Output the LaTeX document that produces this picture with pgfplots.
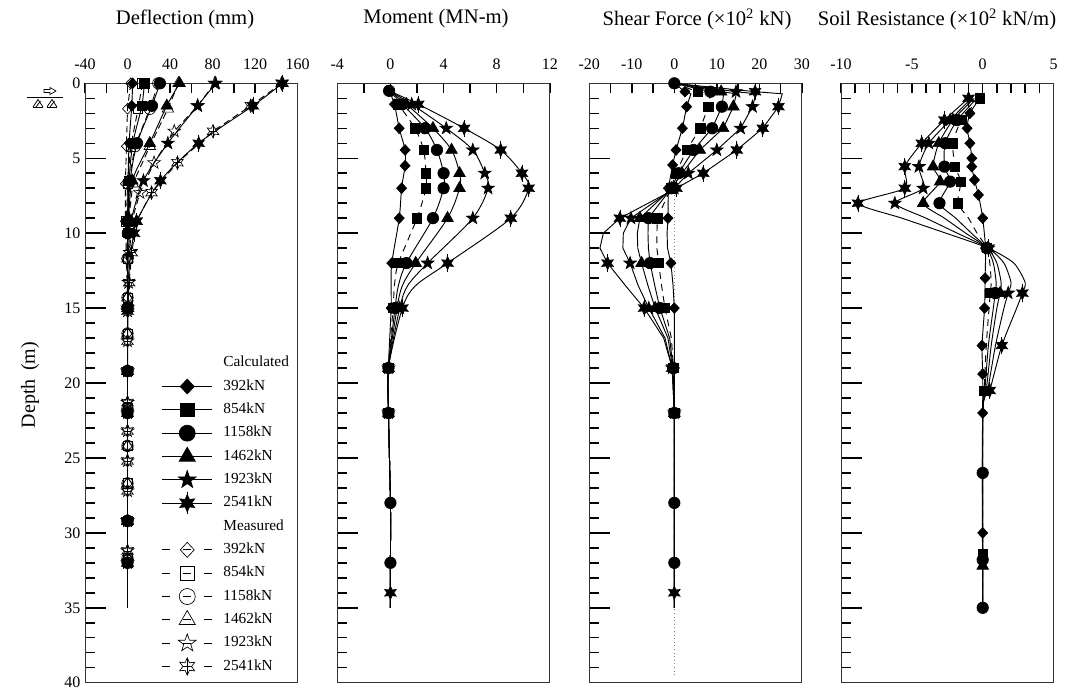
\documentclass[border=0pt]{standalone}
\usepackage{fontspec}
\setmainfont{Liberation Serif}
\usepackage{pgfplots}
\pgfplotsset{compat=1.18}
\usetikzlibrary{plotmarks}

\def\pp#1#2{\pgfqpoint{#1\pgfplotmarksize}{#2\pgfplotmarksize}}
\def\starpath{%
 \pgfpathmoveto{\pp{0}{1}}%
 \pgfpathlineto{\pp{-0.235}{0.324}}\pgfpathlineto{\pp{-0.951}{0.309}}%
 \pgfpathlineto{\pp{-0.380}{-0.124}}\pgfpathlineto{\pp{-0.588}{-0.809}}%
 \pgfpathlineto{\pp{0}{-0.4}}\pgfpathlineto{\pp{0.588}{-0.809}}%
 \pgfpathlineto{\pp{0.380}{-0.124}}\pgfpathlineto{\pp{0.951}{0.309}}%
 \pgfpathlineto{\pp{0.235}{0.324}}\pgfpathclose}
\def\sixpath{%
 \pgfpathmoveto{\pp{0}{1}}%
 \pgfpathlineto{\pp{-0.25}{0.433}}\pgfpathlineto{\pp{-0.866}{0.5}}%
 \pgfpathlineto{\pp{-0.5}{0}}\pgfpathlineto{\pp{-0.866}{-0.5}}%
 \pgfpathlineto{\pp{-0.25}{-0.433}}\pgfpathlineto{\pp{0}{-1}}%
 \pgfpathlineto{\pp{0.25}{-0.433}}\pgfpathlineto{\pp{0.866}{-0.5}}%
 \pgfpathlineto{\pp{0.5}{0}}\pgfpathlineto{\pp{0.866}{0.5}}%
 \pgfpathlineto{\pp{0.25}{0.433}}\pgfpathclose}
\pgfdeclareplotmark{fstar}{\starpath\pgfusepathqfillstroke}
\pgfdeclareplotmark{ostar}{\starpath\pgfusepathqstroke}
\pgfdeclareplotmark{fsix}{\sixpath\pgfusepathqfillstroke
 \pgfpathmoveto{\pp{0}{1.3}}\pgfpathlineto{\pp{0}{-1.3}}\pgfusepathqstroke}
\pgfdeclareplotmark{osix}{\sixpath\pgfusepathqstroke
 \pgfpathmoveto{\pp{0}{1}}\pgfpathlineto{\pp{0}{-1}}%
 \pgfpathmoveto{\pp{-0.5}{0}}\pgfpathlineto{\pp{0.5}{0}}\pgfusepathqstroke}

\pgfplotsset{
 panel/.style={
  scale only axis, width=159.4pt, height=449.55pt, anchor=south west,
  y dir=reverse, ymin=0, ymax=40,
  ytick={0,5,...,40}, minor ytick={0,1,...,40}, yticklabels={},
  xtick pos=right, ytick pos=left, xticklabel pos=right,
  tick align=inside,
  major tick length=15.75pt, minor tick length=7.5pt,
  major x tick style={draw=none},
  every tick/.style={black, line width=1.1pt},
  axis line style={line width=0.7pt, black!80},
  tick label style={font=\fontsize{12}{14}\selectfont},
  xticklabel style={yshift=6.5pt},
  clip=false,
  every axis plot/.append style={line width=0.7pt, black},
 },
 c392/.style={mark=diamond*, mark size=4pt, mark options={solid, fill=black, xscale=1.25, line width=0.5pt}},
 c854/.style={mark=square*, mark size=3.5pt, mark options={solid, fill=black, line width=0.5pt}},
 c1158/.style={mark=*, mark size=4.3pt, mark options={solid, fill=black, line width=0.5pt}},
 c1462/.style={mark=triangle*, mark size=5pt, mark options={solid, fill=black, line width=0.5pt}},
 c1923/.style={mark=fstar, mark size=5pt, mark options={solid, fill=black, line width=0.5pt}},
 c2541/.style={mark=fsix, mark size=5pt, mark options={solid, fill=black, line width=0.5pt}},
 o392/.style={mark=diamond, mark size=4pt, mark options={solid, xscale=1.25, line width=0.5pt}},
 o854/.style={mark=square, mark size=3.5pt, mark options={solid, line width=0.5pt}},
 o1158/.style={mark=o, mark size=4.3pt, mark options={solid, line width=0.5pt}},
 o1462/.style={mark=triangle, mark size=5pt, mark options={solid, line width=0.5pt}},
 o1923/.style={mark=ostar, mark size=5pt, mark options={solid, line width=0.5pt}},
 o2541/.style={mark=osix, mark size=5pt, mark options={solid, line width=0.5pt}},
 meas/.style={dash pattern=on 5pt off 3pt},
 legmeas/.style={dash pattern=on 6pt off 9.75pt},
}

\begin{document}
\begin{tikzpicture}
\useasboundingbox (0,0) rectangle (799.5pt,515.25pt);

% ---------------- Deflection ----------------
\begin{axis}[panel, at={(63.75pt,3.225pt)},
  xmin=-40, xmax=160, xtick={-40,0,...,160}, minor xtick={-40,-20,...,160},
  xticklabels={-40,0,40,80,120,160},
  yticklabels={0,5,10,15,20,25,30,35,40},
  legend image code/.code={\draw[mark repeat=2,mark phase=2,#1] plot coordinates {(0pt,0pt) (18.75pt,0pt) (37.5pt,0pt)};},
  legend cell align=left,
  legend style={draw=none, fill=none, at={(0.36,0.553)}, anchor=north west, inner sep=0pt, row sep=0pt, column sep=8pt,
    nodes={inner sep=0pt, text height=11.5pt, text depth=6pt, font=\fontsize{11.5}{13}\selectfont}},
]
% measured
\addplot[meas, o392, forget plot] coordinates {(3,0) (0,1.7) (-1,4.2) (-2,6.7) (-2,9.2) (-1,11.7) (0,14.3) (0,16.7) (0,19.2) (0,21.7) (0,24.2) (0,26.7) (0,29.2) (0,31.7)};
\addplot[meas, o854, forget plot] coordinates {(14,0) (10,1.7) (3,4.2) (0,6.7) (-1,9.2) (0,11.7) (0,14.3) (0,16.7) (0,19.2) (0,21.7) (0,24.2) (0,26.7) (0,29.2) (0,31.7)};
\addplot[meas, o1158, forget plot] coordinates {(29,0) (21,1.7) (7,4.2) (1,6.7) (0,9.2) (0,11.7) (0,14.3) (0,16.7) (0,19.2) (0,21.7) (0,24.2) (0,26.7) (0,29.2) (0,31.7)};
\addplot[meas, o1462, forget plot] coordinates {(48,0) (38,1.7) (21,4.2) (5,6.7) (1,9.2) (0,11.7) (0,14.3) (0,16.7) (0,19.2) (0,21.7) (0,24.2) (0,26.7) (0,29.2) (0,31.7)};
\addplot[meas, o1923, forget plot] coordinates {(82,0) (66,1.5) (44,3.2) (25,5.3) (11.7,7.3) (4,9.2) (2,11.3) (1,13.3) (0,15.2) (0,17.2) (0,19.2) (0,21.3) (0,23.2) (0,25.2) (0,27.2) (0,29.2) (0,31.2)};
\addplot[meas, o2541, forget plot] coordinates {(145,0) (116,1.5) (80.5,3.2) (47,5.3) (22.6,7.3) (8.5,9.2) (4,11.3) (1.5,13.3) (0,15.2) (0,17.2) (0,19.2) (0,21.3) (0,23.2) (0,25.2) (0,27.2) (0,29.2) (0,31.2)};
% calculated
\addplot[smooth, tension=0.5, c392, mark indices={1,2,3,4,5,6,8,9,10,11,12}, forget plot] coordinates {(4.8,0) (4.0,1.5) (1.5,4) (0.5,6.5) (0.1,9.2) (0,10) (0,12) (0,15) (0,19.2) (0,22) (0,29.2) (0,32) (0,35)};
\addplot[smooth, tension=0.5, c854, mark indices={1,2,3,4,5,6,8,9,10,11,12}, forget plot] coordinates {(15.8,0) (13.5,1.5) (5,4) (1.5,6.5) (0.3,9.2) (0.1,10) (0,12) (0,15) (0,19.2) (0,22) (0,29.2) (0,32) (0,35)};
\addplot[smooth, tension=0.5, c1158, mark indices={1,2,3,4,5,6,8,9,10,11,12}, forget plot] coordinates {(30.5,0) (23,1.5) (9,4) (2.5,6.5) (0.5,9.2) (0.3,10) (0,12) (0,15) (0,19.2) (0,22) (0,29.2) (0,32) (0,35)};
\addplot[smooth, tension=0.5, c1462, mark indices={1,2,3,4,5,6,8,9,10,11,12}, forget plot] coordinates {(49,0) (37,1.5) (21,4) (4.5,6.5) (1,9.2) (0.6,10) (0.1,12) (0,15) (0,19.2) (0,22) (0,29.2) (0,32) (0,35)};
\addplot[smooth, tension=0.5, c1923, mark indices={1,2,3,4,5,6,8,9,10,11,12}, forget plot] coordinates {(83,0) (66,1.5) (38,4) (15,6.5) (3,9.2) (2,10) (0.5,12) (0,15) (0,19.2) (0,22) (0,29.2) (0,32) (0,35)};
\addplot[smooth, tension=0.5, c2541, mark indices={1,2,3,4,5,6,8,9,10,11,12}, forget plot] coordinates {(146,0) (118,1.5) (67,4) (31,6.5) (8.5,9.2) (6,10) (2,12) (0.5,15) (0,19.2) (0,22) (0,29.2) (0,32) (0,35)};
% legend
\addlegendimage{empty legend}\addlegendentry{Calculated}
\addlegendimage{solid, c392, mark size=5.6pt}\addlegendentry{392kN}
\addlegendimage{solid, c854, mark size=5pt}\addlegendentry{854kN}
\addlegendimage{solid, c1158, mark size=6pt}\addlegendentry{1158kN}
\addlegendimage{solid, c1462, mark size=7pt}\addlegendentry{1462kN}
\addlegendimage{solid, c1923, mark size=7pt}\addlegendentry{1923kN}
\addlegendimage{solid, c2541, mark size=6.5pt}\addlegendentry{2541kN}
\addlegendimage{empty legend}\addlegendentry{Measured}
\addlegendimage{legmeas, o392, mark size=5.6pt}\addlegendentry{392kN}
\addlegendimage{legmeas, o854, mark size=5pt}\addlegendentry{854kN}
\addlegendimage{legmeas, o1158, mark size=6pt}\addlegendentry{1158kN}
\addlegendimage{legmeas, o1462, mark size=7pt}\addlegendentry{1462kN}
\addlegendimage{legmeas, o1923, mark size=7pt}\addlegendentry{1923kN}
\addlegendimage{legmeas, o2541, mark size=6.5pt}\addlegendentry{2541kN}
\end{axis}

% ---------------- Moment ----------------
\begin{axis}[panel, at={(252.98pt,3.225pt)},
  xmin=-4, xmax=12, xtick={-4,0,...,12}, minor xtick={-4,-2,...,12},
  xticklabels={-4,0,4,8,12}]
\addplot[smooth, tension=0.5, c392, mark indices={2,3,4,5,6,7,8,10,11,12}] coordinates {(-0.1,0.5) (0.3,1.4) (0.66,3) (1.1,4.45) (1.1,5.5) (0.84,7) (0.66,9) (0.1,12) (0.05,13.5) (0.05,15) (-0.15,19) (-0.15,22) (0,28) (0,32) (0,34) (0,35)};
\addplot[smooth, tension=0.5, dash pattern=on 5pt off 4pt, c854, mark indices={2,3,4,5,6,7,8,10,11,12}] coordinates {(-0.1,0.5) (0.6,1.4) (1.84,3) (2.5,4.45) (2.67,6) (2.67,7) (2.0,9) (0.6,12) (0.3,13.5) (0.2,15) (-0.15,19) (-0.15,22) (0,28) (0,32) (0,34) (0,35)};
\addplot[smooth, tension=0.5, c1462, mark indices={2,3,4,5,6,7,8,10,11,12}] coordinates {(-0.1,0.5) (1.2,1.4) (3.2,3) (4.6,4.45) (5.2,6) (5.2,7) (4.3,9) (1.9,12) (0.9,13.5) (0.5,15) (-0.15,19) (-0.15,22) (0,28) (0,32) (0,34) (0,35)};
\addplot[smooth, tension=0.5, c1923, mark indices={2,3,4,5,6,7,8,10,11,12}] coordinates {(-0.1,0.5) (1.6,1.4) (4.2,3) (6.2,4.45) (7.1,6) (7.35,7) (6.2,9) (2.8,12) (1.3,13.5) (0.7,15) (-0.15,19) (-0.15,22) (0,28) (0,32) (0,34) (0,35)};
\addplot[smooth, tension=0.5, c2541, mark indices={2,3,4,5,6,7,8,10,11,12,15}] coordinates {(-0.1,0.5) (2.1,1.4) (5.55,3) (8.3,4.45) (9.9,6) (10.4,7) (9.06,9) (4.3,12) (1.9,13.5) (0.9,15) (-0.15,19) (-0.15,22) (0,28) (0,32) (0,34) (0,35)};
\addplot[smooth, tension=0.5, c1158, mark indices={1,2,3,4,5,6,7,8,10,11,12,13,14}] coordinates {(-0.1,0.5) (0.9,1.4) (2.6,3) (3.5,4.45) (4.0,6) (4.0,7) (3.2,9) (1.2,12) (0.6,13.5) (0.35,15) (-0.15,19) (-0.15,22) (0,28) (0,32) (0,34) (0,35)};
\end{axis}

% ---------------- Shear ----------------
\begin{axis}[panel, at={(441.98pt,3.225pt)},
  xmin=-20, xmax=30, xtick={-20,-10,...,30}, minor xtick={-20,-15,...,30},
  xticklabels={-20,-10,0,10,20,30}]
\addplot[gray, dotted, line width=0.6pt] coordinates {(0,7) (0,39.5)};
\addplot[c392, mark indices={2,4,5,6,7,8,9,12,14,16,17}] coordinates {(0,0) (2.5,0.56) (3.9,0.7) (2.9,1.56) (1.9,3.0) (0.4,4.45) (-0.4,5.45) (-1.4,7.0) (-1.5,9.0) (-1.7,10) (-1.6,11) (-0.8,12) (-0.3,13.5) (0,15) (0,17) (0,19) (0,22) (0,28) (0,32) (0,34) (0,35)};
\addplot[dash pattern=on 5pt off 4pt, c854, mark indices={2,4,5,6,7,8,9,12,14,16,17}] coordinates {(0,0) (5.5,0.56) (8.5,0.7) (8.0,1.56) (6.1,3.0) (2.9,4.45) (0.4,6.0) (-0.8,7.0) (-4.0,9.0) (-4.1,10) (-4.1,11) (-3.7,12) (-3.0,13.5) (-2.2,15) (-0.7,17) (-0.2,19) (0,22) (0,28) (0,32) (0,34) (0,35)};
\addplot[c1462, mark indices={2,4,5,6,7,8,9,12,14,16,17}] coordinates {(0,0) (11.0,0.56) (14.6,0.7) (13.9,1.56) (11.5,3.0) (6.0,4.45) (1.8,6.0) (-0.6,7.0) (-8.1,9.0) (-8.7,10) (-8.6,11) (-7.7,12) (-6.2,13.5) (-4.5,15) (-1.5,17) (-0.4,19) (0,22) (0,28) (0,32) (0,34) (0,35)};
\addplot[c1923, mark indices={2,4,5,6,7,8,9,12,14,16,17}] coordinates {(0,0) (14.5,0.56) (19.2,0.7) (18.4,1.56) (15.6,3.0) (10.0,4.45) (3.3,6.0) (0.0,7.0) (-10.2,9.0) (-12.0,10) (-12.1,11) (-10.4,12) (-8.5,13.5) (-6.0,15) (-2.2,17) (-0.5,19) (0,22) (0,28) (0,32) (0,34) (0,35)};
\addplot[c2541, mark indices={2,4,5,6,7,8,9,12,14,16,17,20}] coordinates {(0,0) (19.0,0.56) (25.4,0.7) (24.5,1.56) (20.8,3.0) (14.7,4.45) (6.8,6.0) (0.5,7.0) (-12.8,9.0) (-16.7,10) (-17.5,11) (-15.7,12) (-11.5,13.5) (-7.1,15) (-2.5,17) (-0.5,19) (0,22) (0,28) (0,32) (0,34) (0,35)};
\addplot[c1158, mark indices={1,2,4,5,6,7,8,9,12,14,16,17,18,19}] coordinates {(0,0) (8.5,0.56) (11.6,0.7) (11.2,1.56) (8.9,3.0) (4.5,4.45) (1.0,6.0) (-0.7,7.0) (-6.1,9.0) (-6.2,10) (-6.1,11) (-5.7,12) (-4.6,13.5) (-3.4,15) (-1.1,17) (-0.3,19) (0,22) (0,28) (0,32) (0,34) (0,35)};
\end{axis}

% ---------------- Soil resistance ----------------
\begin{axis}[panel, at={(630.75pt,3.225pt)},
  xmin=-10, xmax=5, xtick={-10,-5,0,5}, minor xtick={-10,-9,...,5},
  xticklabels={-10,-5,0,5}]
\addplot[smooth, tension=0.4, c2541, mark indices={1,2,3,4,5,6,9,12,14,15}] coordinates {(-1.0,1.0) (-2.7,2.45) (-4.3,4.0) (-5.5,5.56) (-5.5,7.0) (-8.8,8.0) (-5.7,9.0) (-2.6,10.0) (0.4,11.0) (2.2,12.0) (3.0,13.3) (2.8,14.0) (2.4,15.0) (1.35,17.5) (0.5,20.5) (0,22) (0,35)};
\addplot[smooth, tension=0.4, c1923, mark indices={2,3,4,5,6,9,12}] coordinates {(-0.8,1.0) (-2.3,2.45) (-3.8,4.0) (-4.5,5.56) (-4.2,7.0) (-6.2,8.0) (-4.0,9.0) (-1.8,10.0) (0.4,11.0) (1.5,12.0) (2.0,13.3) (1.8,14.0) (1.5,15.0) (0.9,17.5) (0.35,20.5) (0,22) (0,35)};
\addplot[smooth, tension=0.4, c1462, mark indices={2,3,4,5,6,9,12,17}] coordinates {(-0.6,1.0) (-2.1,2.45) (-3.1,4.0) (-3.5,5.56) (-3.0,6.56) (-4.2,8.0) (-2.7,9.0) (-1.2,10.0) (0.35,11.0) (1.0,12.0) (1.3,13.3) (1.23,14.0) (1.0,15.0) (0.6,17.5) (0.25,20.5) (0,22) (0,32.2) (0,35)};
\addplot[smooth, tension=0.4, c1158, mark indices={2,3,4,5,6,9,12,17,18,19}] coordinates {(-0.4,1.0) (-1.8,2.45) (-2.65,4.0) (-2.7,5.56) (-2.3,6.56) (-3.05,8.0) (-1.9,9.0) (-0.8,10.0) (0.3,11.0) (0.75,12.0) (0.95,13.3) (0.88,14.0) (0.75,15.0) (0.4,17.5) (0.15,20.5) (0,22) (0,26) (0,31.8) (0,35)};
\addplot[smooth, tension=0.4, dash pattern=on 5pt off 4pt, c854, mark indices={1,2,3,4,5,6,9,12,15,17}] coordinates {(-0.2,1.0) (-1.5,2.45) (-2.1,4.0) (-1.95,5.56) (-1.55,6.56) (-1.75,8.0) (-1.0,9.0) (-0.4,10.0) (0.3,11.0) (0.5,12.0) (0.6,13.3) (0.53,14.0) (0.45,15.0) (0.25,17.5) (0.1,20.5) (0,22) (0,31.4) (0,35)};
\addplot[smooth, tension=0.4, c392, mark indices={2,3,4,5,6,7,8,9,10,11,12,13,14,15,16}] coordinates {(-0.2,1.0) (-0.9,2.0) (-1.1,3.0) (-0.9,4.0) (-0.77,5.0) (-0.77,5.56) (-0.58,6.45) (-0.3,7.45) (0,9.0) (0.2,11.0) (0.17,13.0) (0.13,15.0) (-0.05,17.5) (0,19.4) (0,22) (0,30) (0,35)};
\end{axis}

% ---------------- titles and annotations (px coordinates) ----------------
\begin{scope}[shift={(0pt,515.25pt)}, x=0.75pt, y=-0.75pt]
\node[font=\fontsize{15.5}{18}\selectfont] at (185,19) {Deflection (mm)};
\node[font=\fontsize{15.5}{18}\selectfont] at (436,19) {Moment (MN-m)};
\node[font=\fontsize{15.5}{18}\selectfont] at (697,19) {Shear Force (×10\textsuperscript{2} kN)};
\node[font=\fontsize{15.5}{18}\selectfont] at (937,19) {Soil Resistance (×10\textsuperscript{2} kN/m)};
\node[font=\fontsize{15}{18}\selectfont, rotate=90] at (30,385) {Depth\, (m)};
\draw[line width=0.8pt] (27,97.7) -- (63,97.7);
\draw[line width=0.5pt] (44,89.5) -- (50,89.5) -- (50,87.5) -- (56,91) -- (50,94.5) -- (50,92.5) -- (44,92.5) -- cycle;
\foreach \c in {38,52} {
  \draw[line width=0.6pt] (\c-5,107) -- (\c,99.5) -- (\c+5,107);
  \draw[line width=0.6pt] (\c-2,107) -- (\c+2.5,101);
  \draw[line width=0.6pt] (\c-5,107) -- (\c+5,107);
}
\end{scope}
\end{tikzpicture}
\end{document}
